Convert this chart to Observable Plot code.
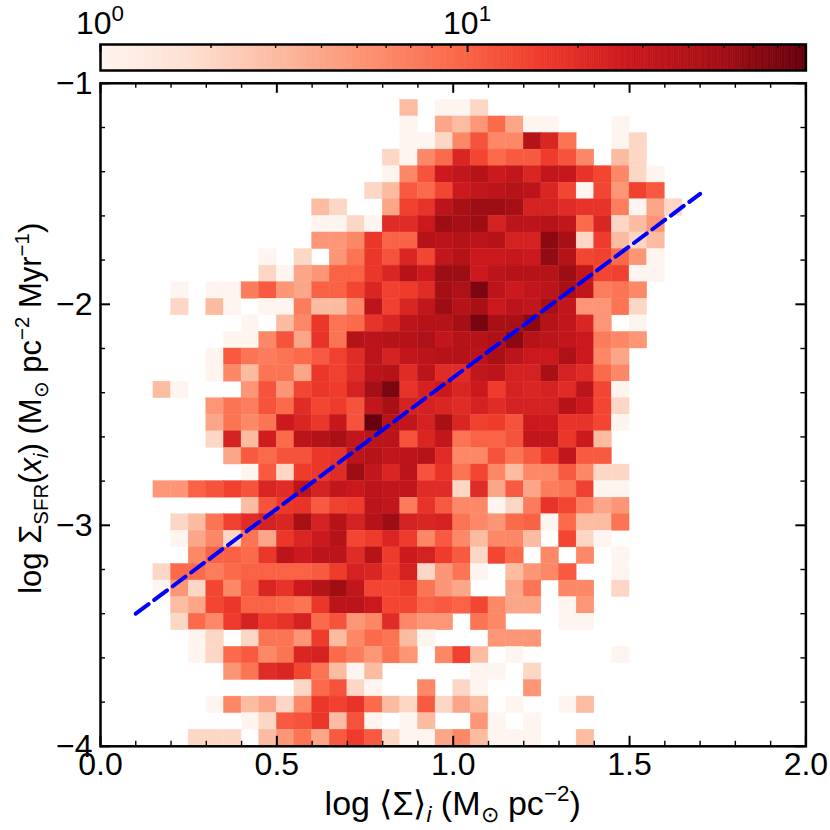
<!DOCTYPE html>
<html><head><meta charset="utf-8">
<script src="https://cdn.jsdelivr.net/npm/d3@7"></script>
<script src="https://cdn.jsdelivr.net/npm/@observablehq/plot@0.6"></script>
<style>
body{margin:0;background:#fff;}
#chart{position:relative;width:830px;height:830px;}
#chart svg{position:absolute;left:0;top:0;}
</style></head><body><div id="chart"></div>
<script>
// ---- data ----
const xBinStart = 0.15, xBinWidth = 0.05;     // first column [0.15,0.20]
const yBinTop = -1.075, yBinHeight = 0.075;   // first row [-1.15,-1.075]
// counts per bin, rows from top (y=-1.075) downward, columns from x=0.15 rightward
const counts = [
[0,0,0,0,0,0,0,0,0,0,0,0,0,0,3,0,1,1,2,0,0,0,0,0,0,0,0,0,0,0],
[0,0,0,0,0,0,0,0,0,0,0,0,0,0,1,0,4,3,5,9,4,1,1,0,0,0,1,0,0,0],
[0,0,0,0,0,0,0,0,0,0,0,0,0,0,1,1,2,6,12,6,6,38,22,8,0,0,1,2,0,0],
[0,0,0,0,0,0,0,0,0,0,0,0,0,2,1,6,9,22,14,9,11,11,16,12,6,0,3,2,0,0],
[0,0,0,0,0,0,0,0,0,0,0,0,0,1,6,12,27,32,38,27,32,22,32,30,18,14,6,2,1,0],
[0,0,0,0,0,0,0,0,0,0,0,0,2,3,11,9,14,27,32,35,38,35,22,14,1,14,5,15,11,0],
[0,0,0,0,0,0,0,0,0,3,2,0,0,4,15,18,35,45,52,52,48,24,24,20,18,18,7,1,4,2],
[0,0,0,0,0,0,0,0,0,1,1,2,1,20,20,28,52,48,52,24,35,35,38,32,9,22,2,3,5,0],
[0,0,0,0,0,0,0,0,0,5,5,6,17,10,10,38,35,38,35,38,24,24,60,45,2,16,3,2,3,0],
[0,0,0,0,0,0,1,0,2,0,5,8,17,12,22,14,32,38,28,28,30,27,57,38,14,15,9,5,1,0],
[0,0,0,0,0,0,2,1,4,5,10,10,17,22,38,27,52,52,27,35,38,38,38,52,32,14,15,1,1,0],
[0,1,0,1,1,7,11,5,4,10,10,14,22,15,16,20,48,42,70,35,27,32,35,45,32,7,8,6,0,0],
[0,2,0,3,1,0,1,1,7,3,3,6,35,15,22,32,52,38,45,28,35,32,45,32,5,5,8,2,0,0],
[0,0,0,0,0,1,0,3,6,17,8,9,18,22,35,38,38,48,72,45,45,60,38,32,22,5,0,1,0,0],
[0,0,0,0,1,1,6,12,4,18,8,38,35,38,38,42,32,38,38,42,60,38,35,32,28,7,6,5,0,0],
[0,0,0,1,11,8,7,8,9,11,15,20,35,24,32,35,38,38,35,45,35,28,28,42,28,6,4,0,0,0],
[0,0,0,1,6,3,8,8,4,17,15,20,35,38,20,35,20,20,32,35,24,24,45,24,20,9,6,0,0,0],
[3,1,0,0,0,5,12,5,14,17,16,24,48,70,18,24,28,22,28,16,24,22,24,20,35,14,1,0,0,0],
[0,0,0,5,8,7,12,9,20,14,16,12,32,45,24,24,22,20,24,20,24,24,24,38,27,14,2,0,0,0],
[0,0,0,4,8,6,8,27,22,17,30,12,83,38,32,24,45,22,15,16,12,28,27,18,18,14,1,0,0,0],
[0,0,0,2,24,3,26,9,35,40,45,32,35,35,12,22,32,8,10,10,12,32,32,17,27,3,0,0,0,0],
[0,0,0,0,4,11,9,12,12,17,18,35,38,32,35,38,20,6,6,12,8,11,17,32,11,11,0,0,0,0],
[0,0,0,0,0,1,11,2,16,17,20,52,32,22,35,12,18,8,14,6,3,6,6,11,6,2,2,0,0,0],
[5,5,10,12,15,12,22,20,35,24,32,28,35,32,32,20,20,2,20,4,11,4,7,8,15,1,1,0,0,0],
[0,0,0,0,0,3,12,17,18,11,15,16,35,32,7,18,11,6,6,1,2,7,18,14,7,4,5,0,0,0],
[0,2,3,8,15,20,24,22,45,24,38,24,38,52,24,22,24,8,6,5,9,10,1,9,3,3,8,0,0,0],
[0,1,4,6,2,8,4,17,22,27,38,14,16,22,16,6,11,6,3,6,6,3,0,14,2,1,0,0,0,0],
[0,0,6,10,10,9,17,35,27,35,35,20,38,16,27,24,16,11,2,14,9,0,6,0,6,0,1,0,0,0],
[2,9,9,7,9,10,10,10,10,11,16,24,22,16,24,2,5,8,1,0,3,5,6,11,0,0,1,0,0,0],
[1,5,2,14,6,11,22,18,27,38,50,32,14,14,16,8,5,4,0,0,4,8,0,6,6,0,2,0,0,0],
[0,3,4,14,17,10,10,9,8,17,35,35,28,14,14,10,11,10,14,6,4,4,0,1,5,0,0,0,0,0],
[0,2,9,6,16,24,16,18,24,9,12,5,6,20,6,5,5,0,8,6,0,0,0,1,1,0,0,0,0,0],
[0,0,1,2,0,2,8,8,5,16,3,6,9,8,3,1,0,0,0,5,5,5,0,0,0,0,0,0,0,0],
[0,0,1,2,9,11,6,8,22,24,9,7,5,8,5,0,6,15,3,0,1,0,0,0,0,0,1,0,0,0],
[0,0,0,0,5,8,20,22,14,8,3,1,3,0,0,0,0,0,1,1,0,2,0,0,0,0,0,0,0,0],
[0,0,0,0,0,0,0,0,2,9,12,2,1,0,0,6,0,2,1,0,0,5,0,0,0,0,0,0,0,0],
[0,0,0,1,6,3,4,2,6,17,15,18,9,3,2,11,2,4,3,0,1,0,0,1,3,0,0,0,0,0],
[0,0,0,0,0,1,2,11,12,17,3,12,1,0,1,3,0,0,5,1,0,1,0,0,0,0,0,0,0,0],
[0,0,2,2,2,0,3,5,8,4,11,16,11,2,1,1,4,6,3,1,1,1,0,0,3,0,0,0,0,0]
];
const countRange = [1, 83.5];
const redsStops = ["#fff5f0","#fee0d2","#fcbba1","#fc9272","#fb6a4a","#ef3b2c","#cb181d","#a50f15","#67000d"];
const fitLine = [{x: 0.1, y: -3.4}, {x: 1.7, y: -1.5}];
const xMajorTicks = [0, 0.5, 1, 1.5, 2];
const xMinorTicks = [0.1,0.2,0.3,0.4,0.6,0.7,0.8,0.9,1.1,1.2,1.3,1.4,1.6,1.7,1.8,1.9];
const yMajorTicks = [-4, -3, -2, -1];
const yMinorTicks = [-3.8,-3.6,-3.4,-3.2,-2.8,-2.6,-2.4,-2.2,-1.8,-1.6,-1.4,-1.2];
const cbMajorTicks = [1, 10];
const cbMinorTicks = [2,3,4,5,6,7,8,9,20,30,40,50,60,70,80];

// ---- layout ----
const W = 830, H = 830;
const mL = 100, mR = 24.6, mT = 82.8, mB = 84.2;
const plotW = W - mL - mR, plotH = H - mT - mB;
const FONT = "'Liberation Sans', Arial, sans-serif";
const FS = 32;
const interp = d3.piecewise(d3.interpolateRgb, redsStops);

const cells = [];
counts.forEach((row, r) => row.forEach((n, c) => {
  if (n > 0) cells.push({
    x1: xBinStart + c * xBinWidth, x2: xBinStart + (c + 1) * xBinWidth,
    y1: yBinTop - (r + 1) * yBinHeight, y2: yBinTop - r * yBinHeight, n
  });
}));

const main = Plot.plot({
  width: W, height: H, marginLeft: mL, marginRight: mR, marginTop: mT, marginBottom: mB,
  style: {fontFamily: FONT, fontSize: FS + "px", background: "transparent", color: "black"},
  x: {domain: [0, 2], label: null},
  y: {domain: [-4, -1], label: null},
  color: {type: "log", domain: countRange, interpolate: interp},
  marks: [
    Plot.rect(cells, {x1: "x1", x2: "x2", y1: "y1", y2: "y2", fill: "n", stroke: "n", strokeWidth: 0.4}),
    Plot.line(fitLine, {x: "x", y: "y", stroke: "#0000ff", strokeWidth: 4, strokeDasharray: "16,7"}),
    Plot.tickX(xMajorTicks, {x: d => d, insetTop: plotH - 10, strokeWidth: 2, stroke: "black"}),
    Plot.tickX(xMajorTicks, {x: d => d, insetBottom: plotH - 10, strokeWidth: 2, stroke: "black"}),
    Plot.tickX(xMinorTicks, {x: d => d, insetTop: plotH - 5, strokeWidth: 1.4, stroke: "black"}),
    Plot.tickX(xMinorTicks, {x: d => d, insetBottom: plotH - 5, strokeWidth: 1.4, stroke: "black"}),
    Plot.tickY(yMajorTicks, {y: d => d, insetRight: plotW - 10, strokeWidth: 2, stroke: "black"}),
    Plot.tickY(yMajorTicks, {y: d => d, insetLeft: plotW - 10, strokeWidth: 2, stroke: "black"}),
    Plot.tickY(yMinorTicks, {y: d => d, insetRight: plotW - 5, strokeWidth: 1.4, stroke: "black"}),
    Plot.tickY(yMinorTicks, {y: d => d, insetLeft: plotW - 5, strokeWidth: 1.4, stroke: "black"}),
    Plot.frame({stroke: "black", strokeWidth: 2.5}),
    Plot.axisX(xMajorTicks, {tickSize: 0, tickPadding: 6, tickFormat: d3.format(".1f"), label: null, fontSize: FS}),
    Plot.axisY(yMajorTicks, {tickSize: 0, tickPadding: 8, tickFormat: d => "\u2212" + Math.abs(d), label: null, fontSize: FS})
  ]
});

// colorbar
const cbTop = 44, cbBottom = 70, cbHeight = 80;
const lmax = Math.log10(countRange[1]);
const rampN = 300;
const ramp = d3.range(rampN).map(i => ({
  a: Math.pow(10, lmax * i / rampN), b: Math.pow(10, lmax * (i + 1) / rampN),
  v: Math.pow(10, lmax * (i + 0.5) / rampN)
}));
const cbh = cbBottom - cbTop;
const cb = Plot.plot({
  width: W, height: cbHeight, marginLeft: mL, marginRight: mR, marginTop: cbTop, marginBottom: cbHeight - cbBottom,
  style: {background: "transparent"},
  x: {type: "log", domain: countRange, axis: null},
  y: {domain: [0, 1], axis: null},
  color: {type: "log", domain: countRange, interpolate: interp},
  marks: [
    Plot.rect(ramp, {x1: "a", x2: "b", y1: 0, y2: 1, fill: "v", stroke: "v", strokeWidth: 0.6}),
    Plot.tickX(cbMajorTicks, {x: d => d, insetBottom: cbh - 8, strokeWidth: 2, stroke: "black"}),
    Plot.tickX(cbMinorTicks, {x: d => d, insetBottom: cbh - 4, strokeWidth: 1.4, stroke: "black"}),
    Plot.frame({stroke: "black", strokeWidth: 2.5})
  ]
});

const root = document.getElementById("chart");
root.appendChild(main);
root.appendChild(cb);

// colorbar tick labels (10^n)
const cbx = cb.scale("x");
const cbs = d3.select(cb);
cbMajorTicks.forEach(v => {
  const t = cbs.append("text").attr("x", cbx.apply(v)).attr("y", 34)
    .attr("text-anchor", "middle").attr("font-family", FONT).attr("font-size", FS).attr("fill", "black");
  t.append("tspan").text("10");
  t.append("tspan").text(String(Math.round(Math.log10(v)))).attr("font-size", FS * 0.7).attr("dy", -FS * 0.42);
});

// axis titles with sub/superscripts
function rich(textSel, parts, fs) {
  let shift = 0;
  parts.forEach(([t, mode]) => {
    const ts = textSel.append("tspan").text(t);
    const small = mode.includes("sub") || mode.includes("sup");
    const target = mode.includes("sub") ? fs * 0.22 : mode.includes("sup") ? -fs * 0.4 : 0;
    ts.attr("dy", target - shift);
    shift = target;
    if (small) ts.attr("font-size", fs * 0.66);
    if (mode.includes("it")) ts.attr("font-style", "italic");
  });
}
const ms = d3.select(main);
const xs = main.scale("x"), ys = main.scale("y");
const XFS = 34, YFS = 31;
const xl = ms.append("text").attr("x", (xs.apply(0) + xs.apply(2)) / 2).attr("y", 815)
  .attr("text-anchor", "middle").attr("font-family", FONT).attr("font-size", XFS).attr("fill", "black");
rich(xl, [["log \u27e8\u03a3\u27e9", ""], ["i", "subit"], [" (M", ""], ["\u2299", "sub"], [" pc", ""], ["\u22122", "sup"], [")", ""]], XFS);
const yc = (ys.apply(-1) + ys.apply(-4)) / 2 - 6;
const yl = ms.append("text").attr("transform", `translate(41,${yc}) rotate(-90)`)
  .attr("text-anchor", "middle").attr("font-family", FONT).attr("font-size", YFS).attr("fill", "black");
rich(yl, [["log \u03a3", ""], ["SFR", "sub"], ["(", ""], ["x", "it"], ["i", "subit"], [") (M", ""], ["\u2299", "sub"], [" pc", ""], ["\u22122", "sup"], [" Myr", ""], ["\u22121", "sup"], [")", ""]], YFS);
</script></body></html>
